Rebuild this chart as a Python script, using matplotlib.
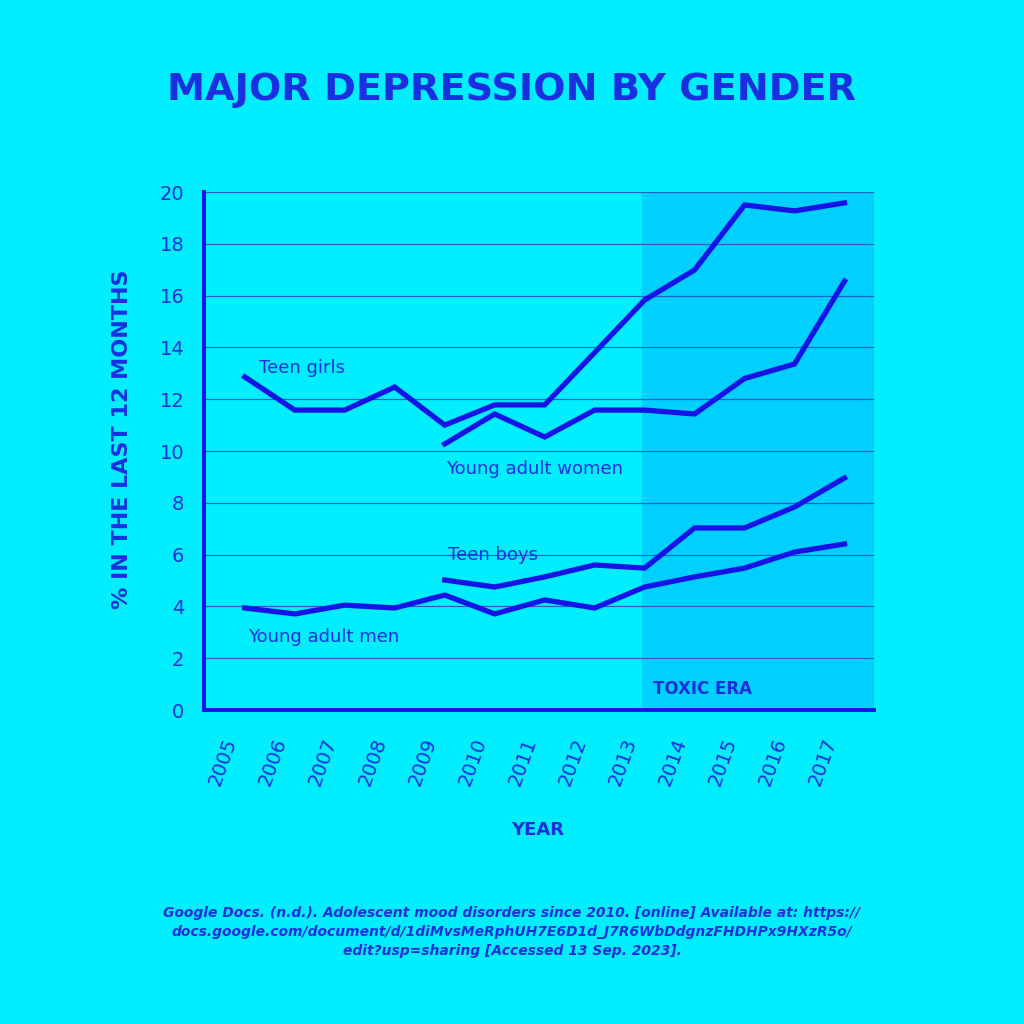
import matplotlib
matplotlib.use("Agg")
import matplotlib.pyplot as plt
import matplotlib.transforms as mtransforms

years = [2005, 2006, 2007, 2008, 2009, 2010, 2011, 2012, 2013, 2014, 2015, 2016, 2017]
teen_girls = [12.86, 11.58, 11.58, 12.47, 11.0, 11.78, 11.78, 13.8, 15.83, 16.99, 19.5, 19.27, 19.58]
ya_women_years = [2009, 2010, 2011, 2012, 2013, 2014, 2015, 2016, 2017]
ya_women = [10.27, 11.43, 10.54, 11.58, 11.58, 11.43, 12.8, 13.36, 16.56]
teen_boys_years = [2009, 2010, 2011, 2012, 2013, 2014, 2015, 2016, 2017]
teen_boys = [5.02, 4.75, 5.14, 5.6, 5.48, 7.03, 7.03, 7.84, 8.96]
ya_men = [3.94, 3.71, 4.05, 3.94, 4.44, 3.71, 4.25, 3.94, 4.75, 5.14, 5.48, 6.1, 6.41]
yticks = [0, 2, 4, 6, 8, 10, 12, 14, 16, 18, 20]

bg = '#00EEFF'
shade = '#00D0FF'
blue = '#1414E6'
text_blue = '#1A30E0'

plt.rcParams['font.family'] = ['DejaVu Sans']
fig = plt.figure(figsize=(10.24, 10.24), dpi=100, facecolor=bg)
ax = fig.add_axes([0.199, 0.3066, 0.655, 0.5059])
ax.set_facecolor(bg)

# toxic era shading
ax.axvspan(2012.95, 2017.6, color=shade, zorder=0, lw=0)

for xs, ys in [(years, teen_girls), (ya_women_years, ya_women),
               (teen_boys_years, teen_boys), (years, ya_men)]:
    ax.plot(xs, ys, color=blue, lw=3.8, solid_joinstyle='miter', zorder=3)

ax.set_xlim(2004.18, 2017.6)
ax.set_ylim(0, 20)
ax.set_yticks(yticks)
ax.set_yticklabels([str(t) for t in yticks])
ax.yaxis.grid(True, color='#2060CC', lw=0.9, zorder=1)
ax.set_axisbelow(True)

# x labels drawn as rotated text under each year
ax.set_xticks(years)
ax.set_xticklabels([])
offset = mtransforms.ScaledTranslation(-13 / 100, -29 / 100, fig.dpi_scale_trans)
for y in years:
    ax.text(y, 0, str(y), transform=ax.get_xaxis_transform() + offset,
            rotation=70, rotation_mode='anchor', ha='right', va='center',
            fontsize=14, color=text_blue)

ax.tick_params(length=0, colors=text_blue, labelsize=14)
ax.tick_params(axis='y', pad=14)
for s in ['top', 'right']:
    ax.spines[s].set_visible(False)
for s in ['left', 'bottom']:
    ax.spines[s].set_color(blue)
    ax.spines[s].set_linewidth(2.8)

ax.text(2005.28, 13.2, 'Teen girls', color=text_blue, fontsize=13, va='center', ha='left')
ax.text(2009.03, 9.3, 'Young adult women', color=text_blue, fontsize=13, va='center', ha='left')
ax.text(2009.07, 5.98, 'Teen boys', color=text_blue, fontsize=13, va='center', ha='left')
ax.text(2005.06, 2.82, 'Young adult men', color=text_blue, fontsize=13, va='center', ha='left')
ax.text(2013.17, 0.81, 'TOXIC ERA', color=text_blue, fontsize=12, fontweight='heavy',
        va='center', ha='left')

fig.text(0.500, 0.912, 'MAJOR DEPRESSION BY GENDER', color=text_blue, fontsize=27.5,
         fontweight='heavy', ha='center', va='center')
fig.text(0.119, 0.571, '% IN THE LAST 12 MONTHS', color=text_blue, fontsize=16,
         fontweight='heavy', ha='center', va='center', rotation=90)
fig.text(0.525, 0.189, 'YEAR', color=text_blue, fontsize=13, fontweight='heavy',
         ha='center', va='center')

source = ('Google Docs. (n.d.). Adolescent mood disorders since 2010. [online] Available at: https://\n'
          'docs.google.com/document/d/1diMvsMeRphUH7E6D1d_J7R6WbDdgnzFHDHPx9HXzR5o/\n'
          'edit?usp=sharing [Accessed 13 Sep. 2023].')
fig.text(0.500, 0.090, source, color=text_blue, fontsize=10, fontweight='bold',
         fontstyle='italic', ha='center', va='center', linespacing=1.45)

fig.savefig('out.png', dpi=100, facecolor=bg)
